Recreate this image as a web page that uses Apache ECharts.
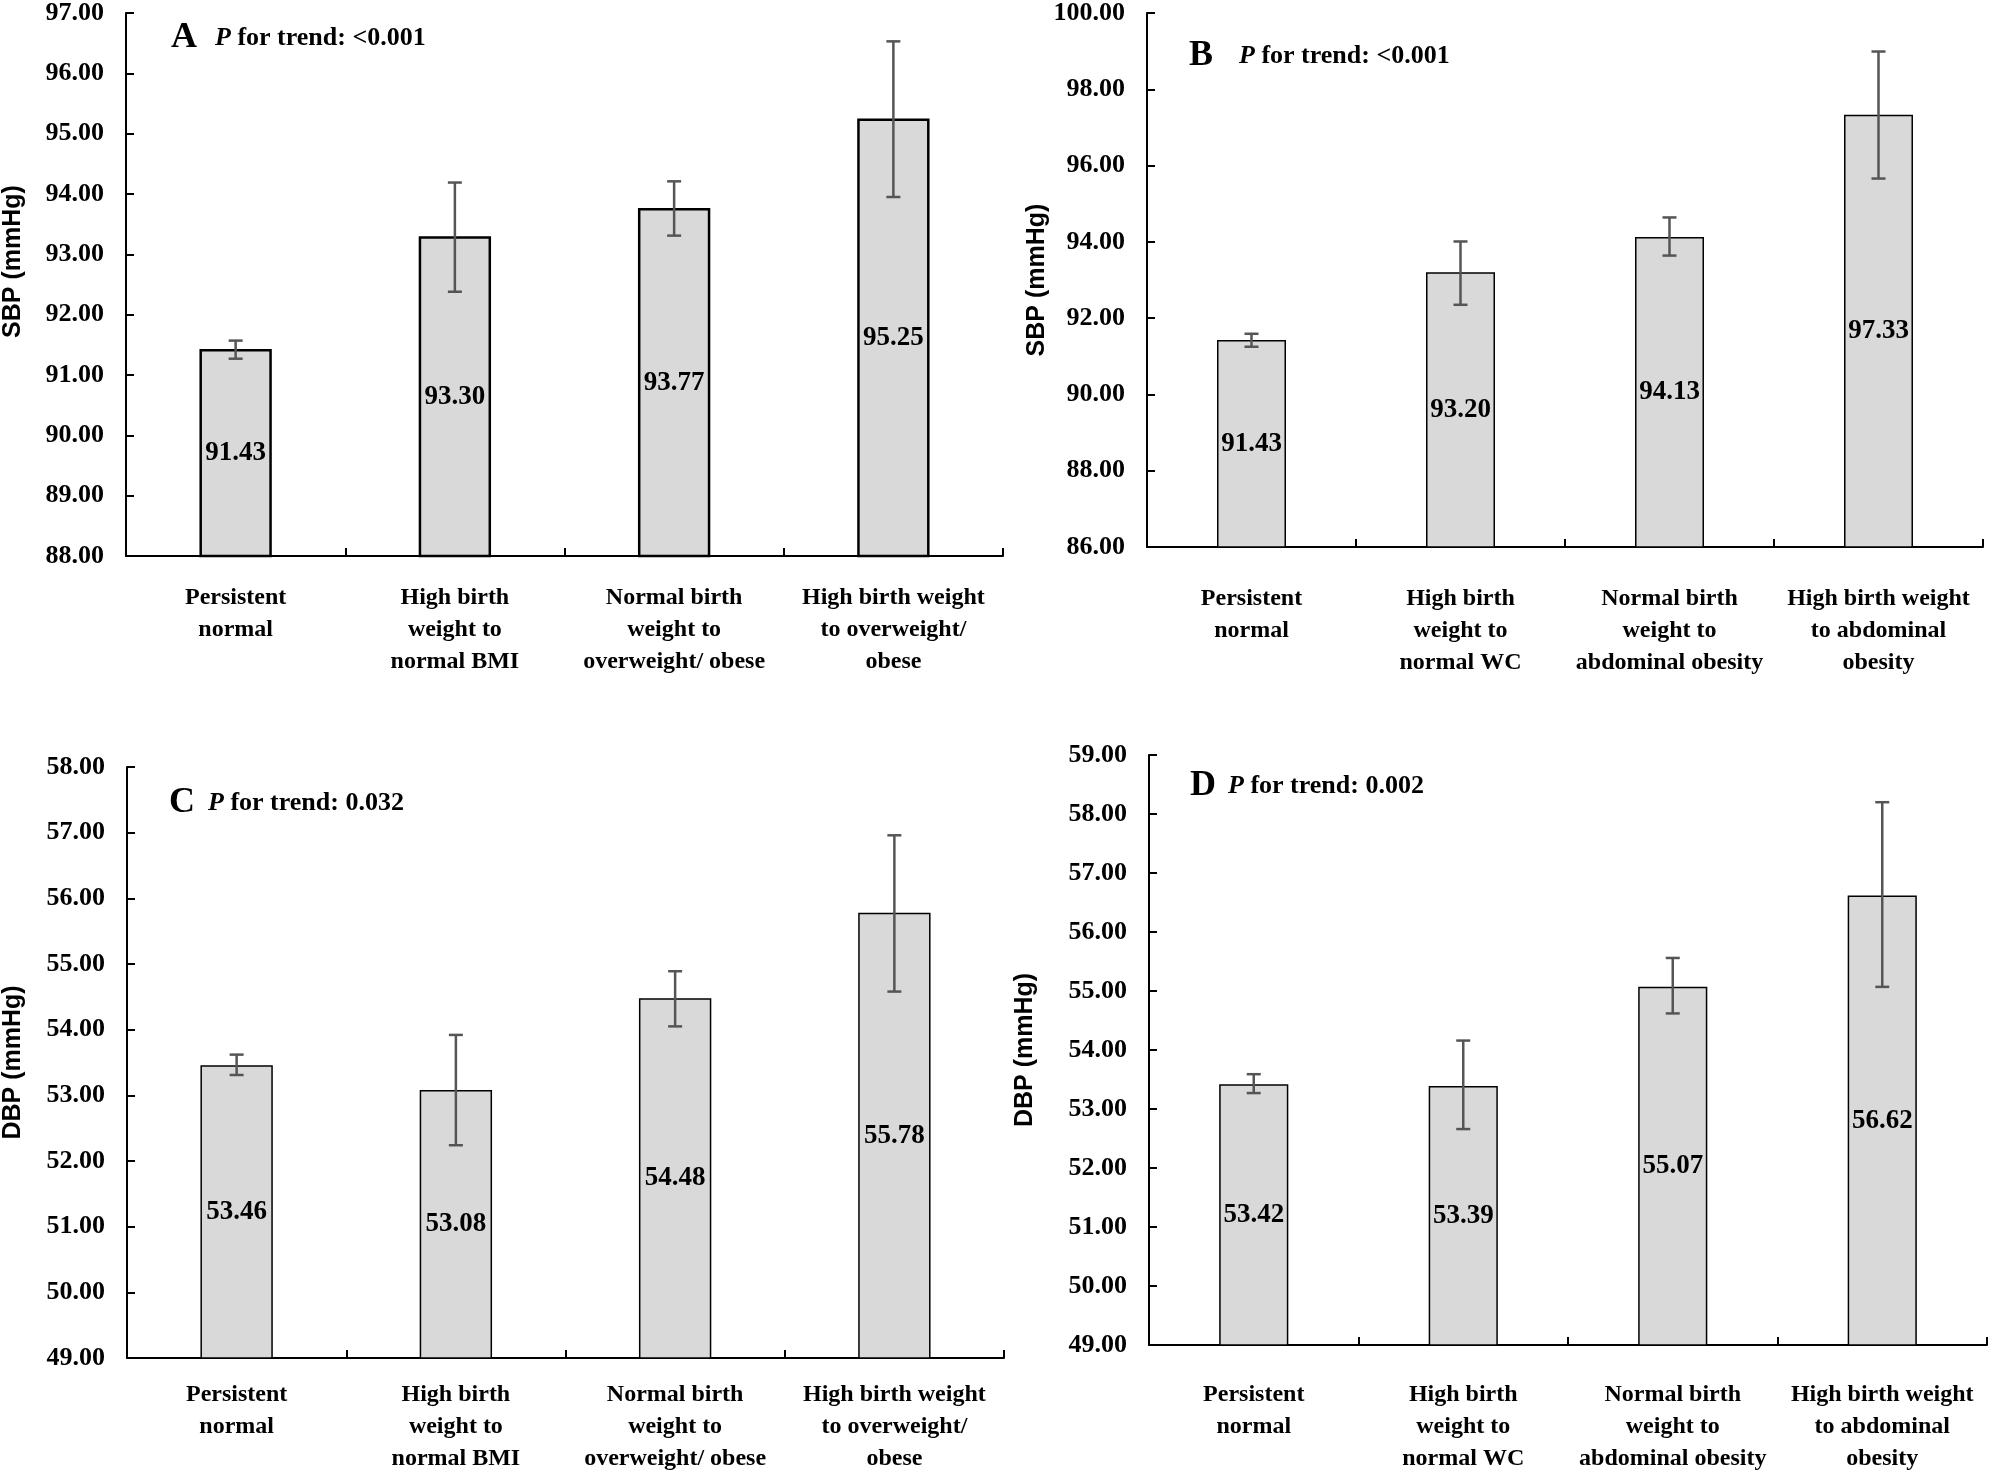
<!DOCTYPE html>
<html>
<head>
<meta charset="utf-8">
<title>SBP / DBP by birth weight and adiposity</title>
<script src="https://cdn.jsdelivr.net/npm/echarts@6/dist/echarts.min.js"></script>
<style>
	html,body{margin:0;padding:0;background:#fff;}
	#main{width:1995px;height:1475px;}
</style>
</head>
<body>
<div id="main"></div>
<script>
// categories
var catsBMI=["Persistent\nnormal","High birth\nweight to\nnormal BMI","Normal birth\nweight to\noverweight/ obese","High birth weight\nto overweight/\nobese"];
var catsWC=["Persistent\nnormal","High birth\nweight to\nnormal WC","Normal birth\nweight to\nabdominal obesity","High birth weight\nto abdominal\nobesity"];

// A: SBP by BMI
var sbpBMI=[91.43,93.30,93.77,95.25];
var sbpBMILow=[91.27,92.38,93.31,93.95];
var sbpBMIHigh=[91.57,94.19,94.21,96.53];
// B: SBP by WC
var sbpWC=[91.43,93.20,94.13,97.33];
var sbpWCLow=[91.25,92.35,93.64,95.66];
var sbpWCHigh=[91.59,94.01,94.64,98.99];
// C: DBP by BMI
var dbpBMI=[53.46,53.08,54.48,55.78];
var dbpBMILow=[53.31,52.24,54.05,54.58];
var dbpBMIHigh=[53.62,53.92,54.89,56.96];
// D: DBP by WC
var dbpWC=[53.42,53.39,55.07,56.62];
var dbpWCLow=[53.27,52.66,54.62,55.07];
var dbpWCHigh=[53.59,54.16,55.56,58.20];

// axis ranges [min,max,interval]
var axisA=[88,97,1],axisB=[86,100,2],axisC=[49,58,1],axisD=[49,59,1];
var trendText=["<0.001","<0.001","0.032","0.002"];
var panelLetters=["A","B","C","D"];

var serif="'Liberation Serif','Times New Roman',serif";
var sans="'Liberation Sans',Arial,sans-serif";

var panels=[
	{cats:catsBMI,vals:sbpBMI,low:sbpBMILow,high:sbpBMIHigh,axis:axisA,name:"SBP (mmHg)",
	 grid:{left:123,top:6,width:880,height:550},border:2.5,labelMargin:26,nameGap:100,namePad:[0,0,0,46],
	 title:{left:166,top:15},letterGap:18},
	{cats:catsWC,vals:sbpWC,low:sbpWCLow,high:sbpWCHigh,axis:axisB,name:"SBP (mmHg)",
	 grid:{left:1147,top:7,width:836,height:540},border:1.5,labelMargin:36,nameGap:89,namePad:0,
	 title:{left:1184,top:33},letterGap:26},
	{cats:catsBMI,vals:dbpBMI,low:dbpBMILow,high:dbpBMIHigh,axis:axisC,name:"DBP (mmHg)",
	 grid:{left:126,top:767,width:878,height:592},border:1.5,labelMargin:21,nameGap:101,namePad:0,
	 title:{left:164,top:780},letterGap:13},
	{cats:catsWC,vals:dbpWC,low:dbpWCLow,high:dbpWCHigh,axis:axisD,name:"DBP (mmHg)",
	 grid:{left:1149,top:755,width:838,height:591},border:1.5,labelMargin:34,nameGap:111,namePad:0,
	 title:{left:1185,top:763},letterGap:12}
];

var option={
	animation:false,
	backgroundColor:"#fff",
	title:[],grid:[],xAxis:[],yAxis:[],series:[]
};

panels.forEach(function(p,i){
	option.grid.push(p.grid);
	option.title.push({
		left:p.title.left,top:p.title.top,
		text:"{a|"+panelLetters[i]+"}{p|P}{t| for trend: "+trendText[i]+"}",
		textStyle:{
			rich:{
				a:{fontFamily:serif,fontWeight:"bold",fontSize:36,color:"#000",padding:[0,p.letterGap,0,0]},
				p:{fontFamily:serif,fontWeight:"bold",fontStyle:"italic",fontSize:26,color:"#000"},
				t:{fontFamily:serif,fontWeight:"bold",fontSize:26,color:"#000"}
			}
		}
	});
	option.xAxis.push({
		type:"category",
		gridIndex:i,
		data:p.cats,
		axisLine:{lineStyle:{color:"#000",width:2}},
		axisTick:{show:true,inside:true,length:8,lineStyle:{color:"#000",width:2}},
		axisLabel:{
			interval:0,
			margin:p.labelMargin,
			fontFamily:serif,fontWeight:"bold",fontSize:24,lineHeight:32,color:"#000"
		},
		splitLine:{show:false}
	});
	option.yAxis.push({
		type:"value",
		gridIndex:i,
		min:p.axis[0],max:p.axis[1],interval:p.axis[2],
		name:p.name,
		nameLocation:"middle",
		nameGap:p.nameGap,
		nameRotate:90,
		nameTextStyle:{fontFamily:sans,fontWeight:"bold",fontSize:25,color:"#000",padding:p.namePad},
		axisLine:{show:true,lineStyle:{color:"#000",width:2}},
		axisTick:{show:true,inside:true,length:8,lineStyle:{color:"#000",width:2}},
		axisLabel:{
			margin:22,
			fontFamily:serif,fontWeight:"bold",fontSize:26,color:"#000",
			formatter:function(v){return v.toFixed(2);}
		},
		splitLine:{show:false}
	});
	// 柱子
	option.series.push({
		type:"bar",
		xAxisIndex:i,yAxisIndex:i,
		barWidth:"33%",
		clip:true,
		data:p.vals,
		itemStyle:{color:"#d9d9d9",borderColor:"#000",borderWidth:p.border},
		label:{
			show:true,position:"inside",
			fontFamily:serif,fontWeight:"bold",fontSize:27,color:"#000",
			formatter:function(d){return d.value.toFixed(2);}
		},
		z:2
	});
	// 误差线
	var errData=p.vals.map(function(v,k){return [k,p.low[k],p.high[k]];});
	option.series.push({
		type:"custom",
		xAxisIndex:i,yAxisIndex:i,
		data:errData,
		encode:{x:0,y:[1,2]},
		z:5,
		renderItem:function(params,api){
			var x=api.value(0);
			var lo=api.coord([x,api.value(1)]);
			var hi=api.coord([x,api.value(2)]);
			var cap=7;
			var style={stroke:"#555555",lineWidth:2.5};
			return {
				type:"group",
				children:[
					{type:"line",shape:{x1:hi[0],y1:hi[1],x2:lo[0],y2:lo[1]},style:style},
					{type:"line",shape:{x1:hi[0]-cap,y1:hi[1],x2:hi[0]+cap,y2:hi[1]},style:style},
					{type:"line",shape:{x1:lo[0]-cap,y1:lo[1],x2:lo[0]+cap,y2:lo[1]},style:style}
				]
			};
		}
	});
});

var myChart=echarts.init(document.getElementById("main"));
myChart.setOption(option);
</script>
</body>
</html>
